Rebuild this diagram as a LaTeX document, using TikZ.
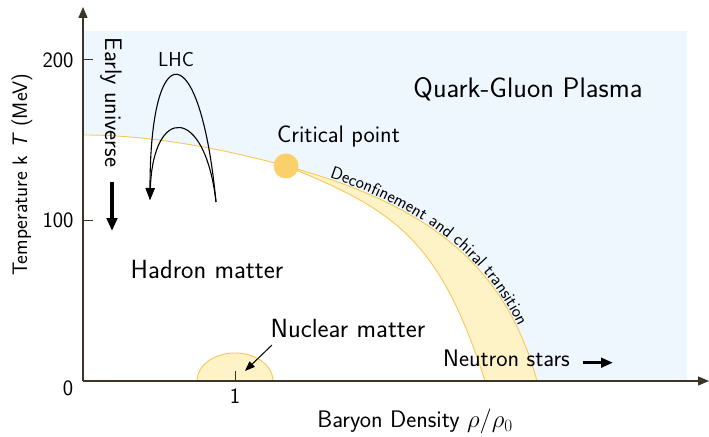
\documentclass[tikz,border=0pt]{standalone}
\usetikzlibrary{arrows.meta,decorations.text}
\renewcommand{\familydefault}{\sfdefault}
\definecolor{qgpblue}{RGB}{239,247,254}
\definecolor{bandfill}{RGB}{253,243,199}
\definecolor{bandline}{RGB}{248,200,90}
\definecolor{critfill}{RGB}{249,208,106}
\definecolor{axiscol}{RGB}{60,52,38}
\begin{document}
\begin{tikzpicture}[x=1bp,y=1bp,
  fqgp/.style={font=\fontsize{28.3}{32}\selectfont},
  fbig/.style={font=\fontsize{26.4}{30}\selectfont},
  fmid/.style={font=\fontsize{24}{28}\selectfont},
  ftick/.style={font=\fontsize{22}{26}\selectfont},
  flab/.style={font=\fontsize{21}{25}\selectfont},
  fsmall/.style={font=\fontsize{20.3}{24}\selectfont},
  axisline/.style={axiscol, line width=1.4, -{Triangle[length=11,width=9]}},
  tickline/.style={axiscol, line width=1},
  phaseline/.style={draw=bandline, line width=0.9},
  fatarrow/.style={line width=3.2, -{Triangle[length=13,width=10.5]}},
  thinarrow/.style={line width=1, -{Triangle[length=10,width=7.5]}},
  lhcarc/.style={line width=1.1, -{Triangle[length=12,width=9]}}]
\useasboundingbox (-83,-56) rectangle (626,381);

% regions
\fill[qgpblue] (0,0) rectangle (604,350);
\fill[white] (0,0) -- (0,246) .. controls (70,246) and (140,232) .. (203,215)
  .. controls (313,171) and (357,140) .. (402,0) -- cycle;
\path[phaseline, fill=bandfill] (203,215) .. controls (353,174.5) and (424,110) .. (454,0)
  -- (402,0) .. controls (357,140) and (313,171) .. (203,215);
\path[phaseline] (0,246) .. controls (70,246) and (140,232) .. (203,215);
\path[phaseline, fill=bandfill] (114,0) arc[start angle=180, end angle=0, x radius=38, y radius=28];

% transition label along the curve
\path[decorate, decoration={text along path, raise=1.5bp,
  text align={left indent=45bp},
  text={|\fontsize{17.6}{20}\selectfont|Deconfinement and chiral transition}}]
  (203,215) .. controls (353,174.5) and (424,110) .. (454,0);

% critical point
\node[circle, fill=critfill, minimum size=25bp, inner sep=0pt] (crit) at (203,215) {};

% axes
\coordinate (O) at (0,0);
\coordinate (ytop) at (0,374);
\coordinate (xend) at (626,0);
\draw[axisline] (O) -- (ytop);
\draw[axisline] (O) -- (xend);
\draw[tickline] (0,321) -- (10,321);
\draw[tickline] (0,160.5) -- (10,160.5);
\draw[tickline] (152,0) -- (152,10);

\node[ftick, anchor=east] (t200) at (-6,321) {200};
\node[ftick, anchor=east] (t100) at (-6,160.5) {100};
\node[ftick] (t0) at (-15,-7) {0};
\node[ftick] (t1) at (152,-15) {1};

\node[flab, rotate=90] (ylab) at (-61,206) {Temperature k \textit{T} (MeV)};
\node[fmid, anchor=base] (xlab) at (332,-47) {Baryon Density $\rho/\rho_0$};

% region labels
\node[fqgp, anchor=base] (qgp) at (445,283) {Quark-Gluon Plasma};
\node[fmid, anchor=base] (critlab) at (255.5,238) {Critical point};
\node[fbig, anchor=base] (hadron) at (124,102) {Hadron matter};
\node[fbig, anchor=base] (nuclear) at (265,43) {Nuclear matter};
\node[fmid, anchor=base] (neutron) at (423.5,14) {Neutron stars};
\node[fsmall, anchor=base] (lhc) at (93,314) {LHC};
\node[fmid, rotate=-90] (early) at (28,278.5) {Early universe};

% arrows
\coordinate (eua) at (29,199);
\coordinate (eub) at (29,150);
\draw[fatarrow] (eua) -- (eub);
\coordinate (nsa) at (500,18.3);
\coordinate (nsb) at (530,18.3);
\draw[fatarrow, -{Triangle[length=12,width=9.5]}] (nsa) -- (nsb);
\coordinate (nma) at (189,36);
\coordinate (nmb) at (162,10);
\draw[thinarrow] (nma) -- (nmb);

% LHC arcs
\coordinate (lhcs) at (133,179);
\coordinate (lhce) at (67,181);
\draw[lhcarc] (lhcs) .. controls (117,347) and (67,347) .. (lhce);
\draw[lhcarc] (lhcs) .. controls (122,276) and (70,276) .. (lhce);
\end{tikzpicture}
\end{document}
